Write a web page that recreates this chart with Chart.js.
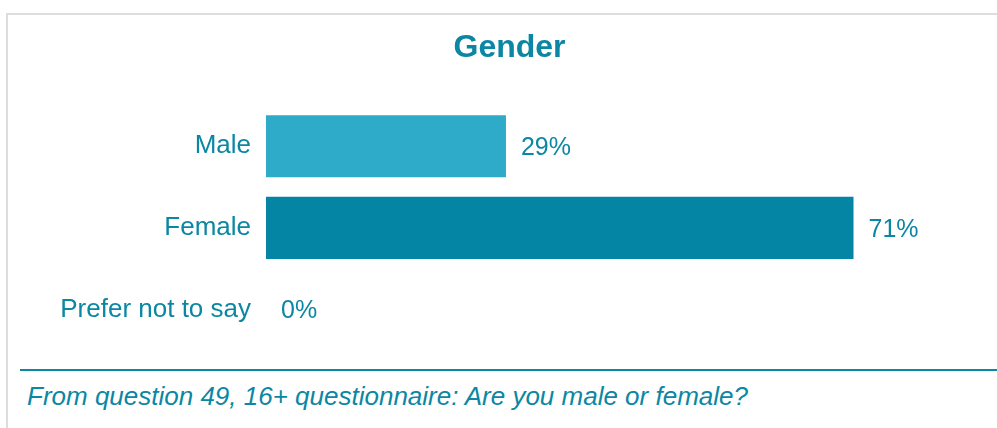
<!DOCTYPE html>
<html>
<head>
<meta charset="utf-8">
<title>Gender</title>
<script src="https://cdn.jsdelivr.net/npm/chart.js@4"></script>
<style>
    html, body {
        margin: 0;
        padding: 0;
        width: 997px;
        height: 428px;
        overflow: hidden;
        background: #ffffff;
        font-family: "Liberation Sans", Arial, sans-serif;
    }
    .frame {
        position: absolute;
        left: 6px;
        top: 13px;
        width: 1100px;
        height: 600px;
        border: 2px solid #dddddd;
    }
    /* wider than the page so the title centre lands where the original has it */
    .chart-box {
        position: absolute;
        left: 0;
        top: 0;
        width: 1019px;
        height: 373px;
    }
    .divider {
        position: absolute;
        left: 20px;
        top: 369px;
        width: 1000px;
        height: 2px;
        background: #0b87a3;
    }
    .footnote {
        position: absolute;
        left: 27px;
        top: 381px;
        font-size: 26px;
        line-height: 30px;
        font-style: italic;
        color: #0b87a3;
        white-space: nowrap;
    }
</style>
</head>
<body>
<div class="frame"></div>
<div class="chart-box"><canvas id="genderChart"></canvas></div>
<div class="divider"></div>
<div class="footnote">From question 49, 16+ questionnaire: Are you male or female?</div>

<script>
// Chart data
const categories = ['Male', 'Female', 'Prefer not to say'];
const percentages = [29, 71, 0];
const barColors = ['#2eabc8', '#0485a3', '#0485a3'];

const textColor = '#0b87a3';

// Draws the "29%" style labels just past the end of each bar
const valueLabels = {
    id: 'valueLabels',
    afterDatasetsDraw(chart) {
        const ctx = chart.ctx;
        const meta = chart.getDatasetMeta(0);
        ctx.save();
        ctx.font = '25px "Liberation Sans", Arial, sans-serif';
        ctx.fillStyle = textColor;
        ctx.textAlign = 'left';
        ctx.textBaseline = 'middle';
        meta.data.forEach((bar, i) => {
            ctx.fillText(percentages[i] + '%', bar.x + 15, bar.y + 2);
        });
        ctx.restore();
    }
};

function initializeChart() {
    const ctx = document.getElementById('genderChart').getContext('2d');
    new Chart(ctx, {
        type: 'bar',
        data: {
            labels: categories,
            datasets: [{
                data: percentages,
                backgroundColor: barColors,
                borderWidth: 0,
                categoryPercentage: 1,
                barPercentage: 0.76
            }]
        },
        options: {
            indexAxis: 'y',
            responsive: true,
            maintainAspectRatio: false,
            animation: false,
            layout: {
                padding: 0
            },
            plugins: {
                legend: { display: false },
                tooltip: { enabled: false },
                title: {
                    display: true,
                    text: 'Gender',
                    color: textColor,
                    font: { family: '"Liberation Sans", Arial, sans-serif', size: 32, weight: 'bold' },
                    padding: { top: 29, bottom: 38 }
                }
            },
            scales: {
                x: {
                    display: false,
                    min: 0,
                    max: 91
                },
                y: {
                    grid: { display: false },
                    border: { display: false },
                    ticks: {
                        color: textColor,
                        padding: 7,
                        font: { family: '"Liberation Sans", Arial, sans-serif', size: 26 }
                    },
                    afterFit(scale) {
                        scale.width = 266;
                    }
                }
            }
        },
        plugins: [valueLabels]
    });
}

document.addEventListener('DOMContentLoaded', initializeChart);
</script>
</body>
</html>
